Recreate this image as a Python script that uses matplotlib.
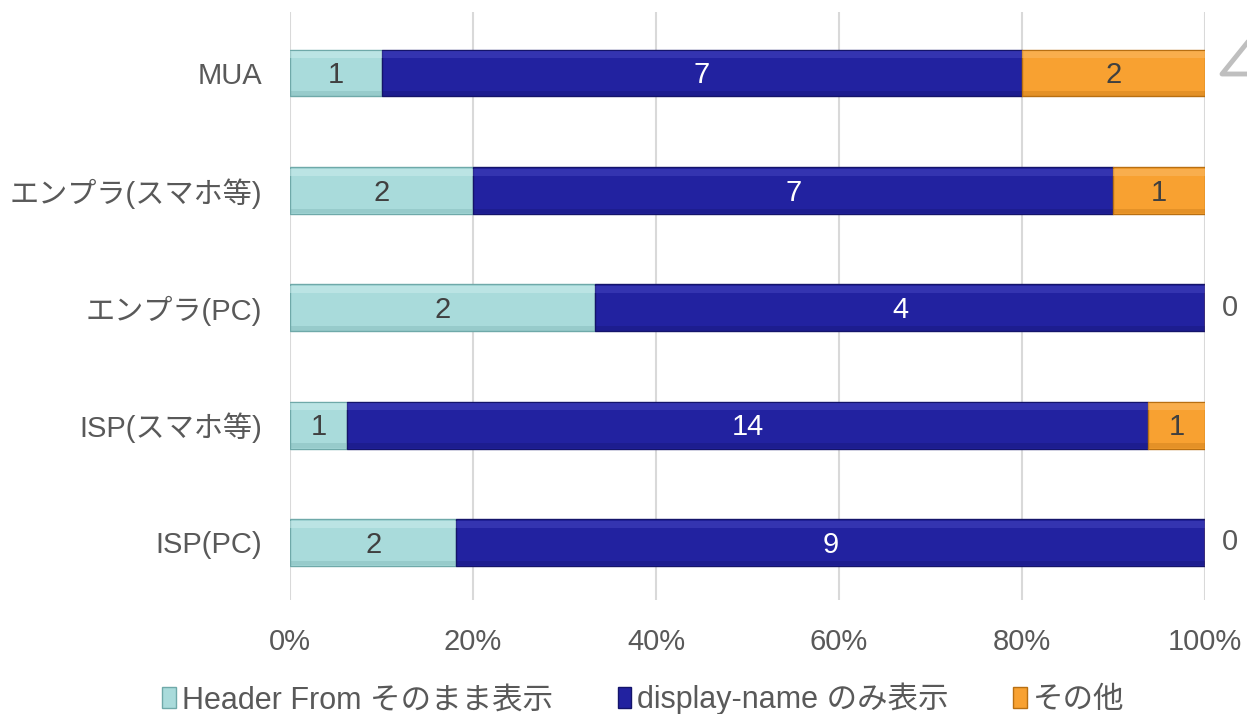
import numpy as np
import matplotlib.pyplot as plt
from matplotlib.lines import Line2D

plt.rcParams['font.family'] = ['Liberation Sans', 'Noto Sans CJK JP', 'DejaVu Sans']

# data (bottom to top)
categories = ['ISP(PC)', 'ISP(スマホ等)', 'エンプラ(PC)', 'エンプラ(スマホ等)', 'MUA']
header_from = [2, 1, 2, 2, 1]
display_name = [9, 14, 4, 7, 7]
other = [0, 1, 0, 1, 2]
series_names = ['Header From そのまま表示', 'display-name のみ表示', 'その他']

colors = ['#a9dbdb', '#2222a0', '#f8a131']
lights = ['#d2f0f0', '#4a4ac4', '#fcc070']
edges = ['#6fa9a9', '#14146a', '#b86f12']
text_colors = ['#404040', '#ffffff', '#404040']
grey = '#595959'

data = np.array([header_from, display_name, other], dtype=float)
totals = data.sum(axis=0)
pct = data / totals * 100

fig = plt.figure(figsize=(12.47, 7.14), dpi=100)
ax = fig.add_axes([0.2326, 0.1597, 0.7337, 0.8235])

y = np.arange(len(categories))
h = 0.40
left = np.zeros(len(categories))
handles = []
for i in range(3):
    bars = ax.barh(y, pct[i], left=left, height=h, color=colors[i],
                   edgecolor=edges[i], linewidth=1.0, zorder=3)
    handles.append(bars)
    # soft bevel: light strip on top, darker strip at the bottom
    ax.barh(y + h / 2 - 0.045, pct[i], left=left, height=0.06, color=lights[i],
            linewidth=0, alpha=0.45, zorder=4)
    ax.barh(y - h / 2 + 0.025, pct[i], left=left, height=0.04, color=edges[i],
            linewidth=0, alpha=0.3, zorder=4)
    for j in range(len(categories)):
        v = int(data[i, j])
        if v > 0:
            ax.text(left[j] + pct[i, j] / 2, y[j] - 0.02, str(v), ha='center', va='center',
                    fontsize=21, color=text_colors[i], zorder=5)
        else:
            ax.text(101.8, y[j], '0', ha='left', va='center', fontsize=21,
                    color=grey, zorder=5, clip_on=False)
    left += pct[i]

ax.set_xlim(0, 100)
ax.set_ylim(-0.49, 4.52)
ax.set_xticks(np.arange(0, 101, 20))
ax.set_xticklabels([f'{t}%' for t in range(0, 101, 20)])
ax.set_yticks(y)
ax.set_yticklabels(categories)
ax.tick_params(axis='both', length=0, labelsize=21, colors=grey)
ax.tick_params(axis='x', pad=20)
ax.tick_params(axis='y', pad=20)
ax.grid(axis='x', color='#d9d9d9', linewidth=1.5, zorder=0)
for s in ax.spines.values():
    s.set_visible(False)

leg = fig.legend(handles, series_names, loc='center', bbox_to_anchor=(0.516, 0.021),
                 ncol=3, frameon=False, fontsize=22, handlelength=0.45, handleheight=0.7,
                 handletextpad=0.2, columnspacing=2.1, borderpad=0)
for t in leg.get_texts():
    t.set_color(grey)

# cut-off shape at the top right corner
fig.add_artist(Line2D([1.0, 1222 / 1247, 1.0], [1 - 43 / 714, 1 - 74 / 714, 1 - 74 / 714],
                      color='#bfbfbf', linewidth=3.5, transform=fig.transFigure))

fig.savefig('out.png', dpi=100)
